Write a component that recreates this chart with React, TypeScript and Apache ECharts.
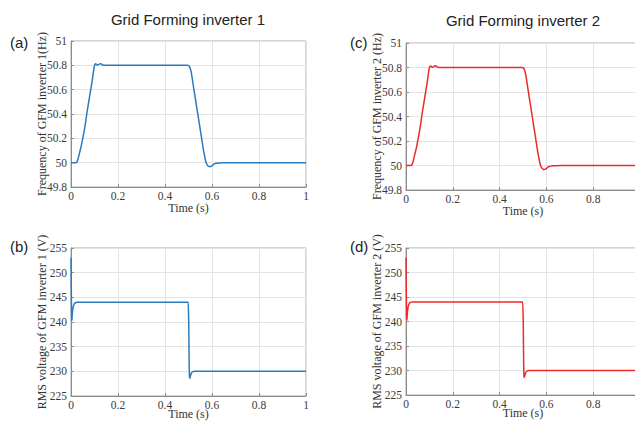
import React, { useEffect, useRef } from "react";
import * as echarts from "echarts";

const titles = ["Grid Forming inverter 1", "Grid Forming inverter 2"];
const panelLabels = ["(a)", "(c)", "(b)", "(d)"];
const xTicks = [0, 0.2, 0.4, 0.6, 0.8, 1];

const freqTime = [0, 0.02, 0.025, 0.03, 0.035, 0.04, 0.045, 0.05, 0.056, 0.062, 0.067, 0.072, 0.078, 0.084, 0.09, 0.095, 0.099, 0.102, 0.105, 0.109, 0.113, 0.117, 0.122, 0.127, 0.131, 0.135, 0.14, 0.15, 0.2, 0.3, 0.4, 0.45, 0.495, 0.5, 0.504, 0.508, 0.512, 0.516, 0.52, 0.524, 0.528, 0.533, 0.537, 0.542, 0.546, 0.551, 0.555, 0.559, 0.563, 0.568, 0.572, 0.576, 0.58, 0.584, 0.588, 0.592, 0.596, 0.6, 0.604, 0.608, 0.612, 0.618, 0.625, 0.64, 0.66, 0.7, 0.8, 0.9, 1.0];
const freq1 = [50, 50, 50.005, 50.03, 50.07, 50.11, 50.15, 50.2, 50.26, 50.33, 50.4, 50.46, 50.53, 50.6, 50.67, 50.74, 50.79, 50.808, 50.812, 50.806, 50.802, 50.806, 50.812, 50.814, 50.808, 50.803, 50.8, 50.8, 50.8, 50.8, 50.8, 50.8, 50.8, 50.798, 50.79, 50.77, 50.74, 50.69, 50.64, 50.59, 50.54, 50.48, 50.43, 50.37, 50.32, 50.26, 50.21, 50.16, 50.11, 50.06, 50.02, 49.995, 49.98, 49.972, 49.968, 49.967, 49.97, 49.975, 49.982, 49.988, 49.992, 49.995, 49.997, 49.998, 50, 50, 50, 50, 50];
const freq2 = [50, 50, 50.005, 50.03, 50.07, 50.11, 50.15, 50.2, 50.26, 50.33, 50.4, 50.46, 50.53, 50.6, 50.67, 50.74, 50.79, 50.808, 50.812, 50.806, 50.802, 50.806, 50.812, 50.814, 50.808, 50.803, 50.8, 50.8, 50.8, 50.8, 50.8, 50.8, 50.8, 50.798, 50.79, 50.77, 50.74, 50.69, 50.64, 50.59, 50.54, 50.48, 50.43, 50.37, 50.32, 50.26, 50.21, 50.16, 50.11, 50.06, 50.02, 49.995, 49.98, 49.972, 49.968, 49.967, 49.97, 49.975, 49.982, 49.988, 49.992, 49.995, 49.997, 49.998, 50, 50, 50, 50, 50];

const voltTime = [0, 0.0005, 0.001, 0.0015, 0.002, 0.0025, 0.003, 0.004, 0.005, 0.006, 0.008, 0.01, 0.012, 0.015, 0.018, 0.022, 0.026, 0.03, 0.05, 0.2, 0.4, 0.499, 0.5, 0.501, 0.502, 0.503, 0.504, 0.505, 0.507, 0.509, 0.512, 0.515, 0.519, 0.524, 0.53, 0.54, 0.6, 0.8, 1.0];
const volt1 = [253, 251.5, 248, 245, 242.5, 241, 240.3, 240.5, 241.2, 241.9, 242.7, 243.2, 243.5, 243.75, 243.88, 243.95, 244, 244, 244, 244, 244, 244, 243.9, 240, 235, 231, 229, 228.6, 228.8, 229.2, 229.6, 229.8, 229.93, 230, 230, 230, 230, 230, 230];
const volt2 = [253, 251.5, 248, 245, 242.5, 241, 240.3, 240.5, 241.2, 241.9, 242.7, 243.2, 243.5, 243.75, 243.88, 243.95, 244, 244, 244, 244, 244, 244, 243.9, 240, 235, 231, 229, 228.6, 228.8, 229.2, 229.6, 229.8, 229.93, 230, 230, 230, 230, 230, 230];

const yNames = [
  "Frequency of GFM inverter 1(Hz)",
  "Frequency of GFM inverter 2 (Hz)",
  "RMS voltage of GFM inverter 1 (V)",
  "RMS voltage of GFM inverter 2 (V)",
];

const BLUE = "#2a7bbd";
const RED = "#ec2a2a";
const SERIF = "Liberation Serif";
const SANS = "Liberation Sans";

export default function App() {
  const ref = useRef<HTMLDivElement>(null);
  useEffect(() => {
    if (!ref.current) return;
    const chart = echarts.init(ref.current, undefined, { renderer: "svg" });
    const grids = [
      { left: 71, top: 41, width: 235, height: 146 },
      { left: 406, top: 43, width: 234, height: 147 },
      { left: 71, top: 248, width: 235, height: 148 },
      { left: 406, top: 248, width: 234, height: 147 },
    ].map((g) => ({
      ...g,
      show: true,
      borderColor: "#a8a8a8",
      borderWidth: 1,
      backgroundColor: "transparent",
      containLabel: false,
      outerBoundsMode: "none",
    }));

    const fmt = (v: number) => String(Number(v.toFixed(1)));

    const xAxis = grids.map((_, i) => ({
      type: "value",
      gridIndex: i,
      min: xTicks[0],
      max: xTicks[xTicks.length - 1],
      interval: 0.2,
      name: "Time (s)",
      nameLocation: "middle",
      nameGap: i < 2 ? 15 : 12,
      nameMoveOverlap: false,
      nameTextStyle: { fontFamily: SERIF, fontSize: 12, color: "#333" },
      axisLine: { show: true, onZero: false, lineStyle: { color: "#8c8c8c", width: 1 } },
      axisTick: { show: true, inside: true, length: 3, lineStyle: { color: "#8c8c8c" } },
      axisLabel: {
        fontFamily: SERIF,
        fontSize: 11.5,
        color: "#3a3a3a",
        margin: 3,
        formatter: fmt,
        showMaxLabel: i % 2 === 0,
      },
      splitLine: { show: true, lineStyle: { color: "#e4e4e4", width: 1 } },
    }));

    const yAxis = grids.map((_, i) => {
      const isFreq = i < 2;
      return {
        type: "value",
        gridIndex: i,
        min: isFreq ? 49.8 : 225,
        max: isFreq ? 51 : 255,
        interval: isFreq ? 0.2 : 5,
        name: yNames[i],
        nameLocation: "middle",
        nameRotate: 90,
        nameGap: 23,
        nameMoveOverlap: false,
        nameTextStyle: { fontFamily: SERIF, fontSize: 12, color: "#333" },
        axisLine: { show: true, onZero: false, lineStyle: { color: "#8c8c8c", width: 1 } },
        axisTick: { show: true, inside: true, length: 3, lineStyle: { color: "#8c8c8c" } },
        axisLabel: {
          fontFamily: SERIF,
          fontSize: 11.5,
          color: "#3a3a3a",
          margin: 4,
          formatter: fmt,
        },
        splitLine: { show: true, lineStyle: { color: "#e4e4e4", width: 1 } },
      };
    });

    const mk = (t: number[], v: number[]) => t.map((x, k) => [x, v[k]]);
    const seriesData = [mk(freqTime, freq1), mk(freqTime, freq2), mk(voltTime, volt1), mk(voltTime, volt2)];
    const colors = [BLUE, RED, BLUE, RED];
    const series = seriesData.map((d, i) => ({
      type: "line",
      xAxisIndex: i,
      yAxisIndex: i,
      data: d,
      showSymbol: false,
      smooth: 0.15,
      lineStyle: { color: colors[i], width: 1.5 },
      itemStyle: { color: colors[i] },
    }));

    const labelPos = [
      [10, 42],
      [350, 42],
      [10, 246],
      [350, 246],
    ];

    chart.setOption({
      animation: false,
      textStyle: { fontFamily: SERIF },
      grid: grids,
      xAxis,
      yAxis,
      series,
      graphic: [
        { type: "text", x: 188, y: 19, style: { text: titles[0], fontFamily: SANS, fontSize: 15, fill: "#222", textAlign: "center", textVerticalAlign: "middle" } },
        { type: "text", x: 523, y: 20, style: { text: titles[1], fontFamily: SANS, fontSize: 15, fill: "#222", textAlign: "center", textVerticalAlign: "middle" } },
        ...panelLabels.map((t, i) => ({
          type: "text",
          x: labelPos[i][0],
          y: labelPos[i][1],
          style: { text: t, fontFamily: SANS, fontSize: 15, fill: "#222", textAlign: "left", textVerticalAlign: "middle" },
        })),
      ],
    });
    return () => chart.dispose();
  }, []);

  return (
    <div style={{ position: "fixed", left: 0, top: 0, width: 635, height: 421, overflow: "hidden", background: "#fff" }}>
      <div ref={ref} style={{ width: 635, height: 421 }} />
    </div>
  );
}
